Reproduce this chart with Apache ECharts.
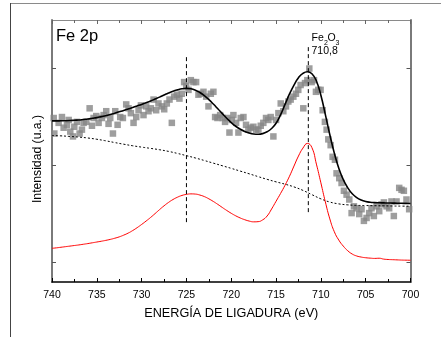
<!DOCTYPE html>
<html>
<head>
<meta charset="utf-8">
<script src="https://cdn.jsdelivr.net/npm/echarts@6/dist/echarts.min.js"></script>
<style>
html,body{margin:0;padding:0;background:#fff;}
#chart{width:441px;height:337px;position:absolute;left:0;top:0;}
#frameTop{position:absolute;left:10px;top:3px;width:431px;height:0;border-top:1px solid #8a8a8a;}
#frameLeft{position:absolute;left:10px;top:3px;width:0;height:334px;border-left:1.5px solid #444;}
</style>
</head>
<body>
<div id="chart"></div>
<div id="frameTop"></div>
<div id="frameLeft"></div>
<script>
// ---- Data (binding energy in eV, intensity in arbitrary units) ----
const scatterEnergy = [739.81,739.74,739.26,738.89,738.70,738.33,738.14,737.96,737.66,737.51,737.21,736.92,736.66,736.47,736.17,735.80,735.54,735.36,735.06,734.80,734.43,734.24,733.95,733.69,733.50,733.20,732.94,732.68,732.39,732.09,731.72,731.46,731.20,730.90,730.60,730.34,730.08,729.79,729.49,729.23,728.97,728.67,728.38,728.12,727.74,727.48,727.19,726.89,726.63,726.37,726.07,725.78,725.52,725.26,725.03,724.77,724.51,724.22,723.92,723.66,723.40,723.10,722.80,722.54,722.28,721.99,721.80,721.54,721.24,720.95,720.69,720.43,720.20,719.94,719.76,719.46,719.20,718.94,718.64,718.35,718.09,717.83,717.53,717.23,716.97,716.71,716.42,716.12,715.86,715.60,715.30,715.00,714.74,714.48,714.19,713.89,713.63,713.37,713.07,712.78,712.52,712.26,711.96,711.77,711.51,711.29,711.03,710.77,710.55,710.29,710.03,709.80,709.55,709.36,709.17,708.91,708.69,708.43,708.25,707.95,707.69,707.43,707.13,706.83,706.57,706.31,706.02,705.72,705.46,705.20,704.90,704.61,704.35,704.09,703.79,703.49,703.23,702.97,702.67,702.38,702.12,701.86,701.56,701.26,701.00,700.74,700.45,700.15];
const scatterIntensity = [1.49,1.33,1.44,1.50,1.39,1.42,1.47,1.35,1.30,1.40,1.45,1.33,1.37,1.44,1.45,1.59,1.41,1.49,1.51,1.44,1.49,1.52,1.56,1.43,1.49,1.33,1.56,1.42,1.50,1.49,1.63,1.59,1.54,1.44,1.50,1.57,1.62,1.52,1.61,1.56,1.59,1.68,1.57,1.64,1.61,1.58,1.64,1.68,1.44,1.71,1.73,1.69,1.74,1.86,1.82,1.78,1.88,1.86,1.86,1.73,1.74,1.76,1.71,1.61,1.74,1.76,1.50,1.49,1.52,1.49,1.45,1.49,1.34,1.47,1.52,1.44,1.34,1.49,1.50,1.42,1.37,1.39,1.40,1.37,1.37,1.41,1.44,1.49,1.47,1.50,1.30,1.47,1.54,1.64,1.56,1.61,1.66,1.68,1.71,1.74,1.78,1.83,1.59,1.85,1.88,2.00,1.86,1.88,1.76,1.78,1.78,1.57,1.45,1.37,1.27,1.21,1.09,1.06,0.92,0.87,0.82,0.74,0.70,0.65,0.51,0.58,0.56,0.50,0.55,0.43,0.46,0.51,0.56,0.48,0.58,0.53,0.60,0.62,0.58,0.56,0.63,0.48,0.63,0.77,0.75,0.74,0.65,0.55];

// energies sampled every 0.5 eV for the fitted envelope and the Fe2O3 component
const curveEnergy = [740,739.5,739,738.5,738,737.5,737,736.5,736,735.5,735,734.5,734,733.5,733,732.5,732,731.5,731,730.5,730,729.5,729,728.5,728,727.5,727,726.5,726,725.5,725,724.5,724,723.5,723,722.5,722,721.5,721,720.5,720,719.5,719,718.5,718,717.5,717,716.5,716,715.5,715,714.5,714,713.5,713,712.5,712,711.5,711,710.5,710,709.5,709,708.5,708,707.5,707,706.5,706,705.5,705,704.5,704,703.5,703,702.5,702,701.5,701,700.5,700];

const fitIntensity = [1.460,1.460,1.461,1.462,1.464,1.467,1.470,1.475,1.480,1.487,1.494,1.504,1.514,1.527,1.540,1.554,1.568,1.583,1.598,1.614,1.630,1.647,1.665,1.685,1.705,1.727,1.748,1.766,1.780,1.791,1.795,1.791,1.777,1.753,1.720,1.680,1.634,1.585,1.535,1.487,1.443,1.405,1.375,1.352,1.336,1.326,1.323,1.329,1.348,1.382,1.436,1.522,1.630,1.738,1.830,1.905,1.950,1.966,1.946,1.872,1.725,1.525,1.318,1.128,0.972,0.855,0.770,0.709,0.670,0.645,0.630,0.622,0.618,0.616,0.615,0.614,0.613,0.612,0.611,0.610,0.609];

const peakIntensity = [0.147,0.152,0.158,0.164,0.170,0.176,0.182,0.189,0.196,0.204,0.212,0.220,0.229,0.239,0.251,0.265,0.283,0.304,0.330,0.360,0.393,0.428,0.465,0.505,0.546,0.585,0.620,0.650,0.674,0.692,0.703,0.708,0.706,0.696,0.680,0.657,0.630,0.600,0.568,0.537,0.508,0.482,0.460,0.442,0.428,0.420,0.422,0.440,0.480,0.552,0.632,0.712,0.797,0.890,0.995,1.098,1.180,1.228,1.185,1.015,0.822,0.625,0.450,0.318,0.232,0.170,0.122,0.088,0.068,0.057,0.050,0.046,0.043,0.045,0.036,0.032,0.030,0.028,0.026,0.025,0.024];

// Shirley-type background, every 1 eV
const bgEnergy =    [740,739,738,737,736,735,734,733,732,731,730,729,728,727,726,725,724,723,722,721,720,719,718,717,716,715,714,713,712,711,710,709,708,707,706,705,704,703,702,701,700];
const bgIntensity = [1.309,1.306,1.300,1.293,1.284,1.271,1.255,1.237,1.220,1.204,1.190,1.177,1.163,1.146,1.125,1.102,1.078,1.052,1.025,0.998,0.971,0.943,0.915,0.886,0.858,0.832,0.808,0.780,0.744,0.700,0.657,0.624,0.605,0.595,0.590,0.588,0.586,0.585,0.583,0.582,0.581];

const markEnergy = [725.0, 711.4];
const markBottom = [0.417, 0.52];
const markTop =    [2.127, 2.222];

const xTickLabels = [700, 705, 710, 715, 720, 725, 730, 735, 740];
const yTickValues = [0, 1, 2];

// ---- Build ----
const zip = (a, b) => a.slice(0, Math.min(a.length, b.length)).map((v, i) => [v, b[i]]);
const FONT = '"Liberation Sans", Arial, sans-serif';

const chart = echarts.init(document.getElementById('chart'), null, {renderer: 'canvas'});

const markSeries = markEnergy.map((e, i) => ({
  type: 'line',
  data: [[e, markBottom[i]], [e, markTop[i]]],
  showSymbol: false,
  lineStyle: {color: '#000', width: 1, type: [4, 3]},
  silent: true,
  z: 4
}));

const option = {
  animation: false,
  backgroundColor: '#fff',
  grid: {left: 52, right: 30.5, top: 20, bottom: 55, containLabel: false},
  xAxis: [
    {
      type: 'value', min: 700, max: 740, interval: 5, inverse: true, position: 'bottom',
      axisLine: {show: true, onZero: false, lineStyle: {color: '#000', width: 1.5}},
      axisTick: {show: true, inside: true, length: 4, lineStyle: {color: '#000', width: 1}},
      minorTick: {show: true, splitNumber: 2, length: 3, lineStyle: {color: '#000', width: 1}},
      splitLine: {show: false},
      axisLabel: {
        show: true, margin: 8, color: '#000', fontSize: 10.5, fontFamily: FONT,
        formatter: v => (xTickLabels.indexOf(v) >= 0 ? String(v) : '')
      },
      name: 'ENERGÍA DE LIGADURA (eV)', nameLocation: 'middle', nameGap: 25,
      nameTextStyle: {color: '#000', fontSize: 12.7, fontFamily: FONT}
    },
    {
      type: 'value', min: 700, max: 740, interval: 5, inverse: true, position: 'top',
      axisLine: {show: true, onZero: false, lineStyle: {color: '#8a8a8a', width: 1}},
      axisTick: {show: true, inside: true, length: 4, lineStyle: {color: '#666', width: 1}},
      minorTick: {show: true, splitNumber: 2, length: 3, lineStyle: {color: '#666', width: 1}},
      splitLine: {show: false},
      axisLabel: {show: false}
    }
  ],
  yAxis: [
    {
      type: 'value', min: -0.2, max: 2.5, position: 'left',
      axisLine: {show: true, onZero: false, lineStyle: {color: '#7a7a7a', width: 2}},
      axisTick: {show: true, inside: true, length: 4, customValues: yTickValues, lineStyle: {color: '#555', width: 1}},
      axisLabel: {show: false},
      splitLine: {show: false}
    },
    {
      type: 'value', min: -0.2, max: 2.5, position: 'right',
      axisLine: {show: true, onZero: false, lineStyle: {color: '#7a7a7a', width: 2}},
      axisTick: {show: true, inside: true, length: 4, customValues: yTickValues, lineStyle: {color: '#555', width: 1}},
      axisLabel: {show: false},
      splitLine: {show: false}
    }
  ],
  series: [
    {
      type: 'line', data: zip(bgEnergy, bgIntensity), showSymbol: false, smooth: true,
      lineStyle: {color: '#000', width: 1, type: [2, 2]}, z: 2
    },
    {
      type: 'line', data: zip(curveEnergy, peakIntensity), showSymbol: false, smooth: true,
      lineStyle: {color: '#ff0000', width: 1}, z: 3
    },
    {
      type: 'scatter', data: zip(scatterEnergy, scatterIntensity), symbol: 'rect', symbolSize: 6.5,
      itemStyle: {color: '#868686'}, z: 1
    },
    {
      type: 'line', data: zip(curveEnergy, fitIntensity), showSymbol: false, smooth: true,
      lineStyle: {color: '#000', width: 1.6}, z: 5
    },
    ...markSeries
  ],
  graphic: [
    {type: 'text', x: 56, y: 36, style: {text: 'Fe 2p', fontSize: 16.5, fontFamily: FONT, fill: '#000', verticalAlign: 'middle'}},
    {type: 'text', x: 311.5, y: 38.5, style: {text: 'Fe', fontSize: 10.5, fontFamily: FONT, fill: '#000', verticalAlign: 'middle'}},
    {type: 'text', x: 324, y: 43, style: {text: '2', fontSize: 7, fontFamily: FONT, fill: '#000', verticalAlign: 'middle'}},
    {type: 'text', x: 327.5, y: 38.5, style: {text: 'O', fontSize: 10.5, fontFamily: FONT, fill: '#000', verticalAlign: 'middle'}},
    {type: 'text', x: 335.5, y: 43, style: {text: '3', fontSize: 7, fontFamily: FONT, fill: '#000', verticalAlign: 'middle'}},
    {type: 'text', x: 311.5, y: 51, style: {text: '710,8', fontSize: 10.5, fontFamily: FONT, fill: '#000', verticalAlign: 'middle'}},
    {type: 'text', x: 37.5, y: 159, rotation: Math.PI / 2,
     style: {text: 'Intensidad (u.a.)', fontSize: 12.2, fontFamily: FONT, fill: '#000', align: 'center', verticalAlign: 'middle'}}
  ]
};
chart.setOption(option);
</script>
</body>
</html>
